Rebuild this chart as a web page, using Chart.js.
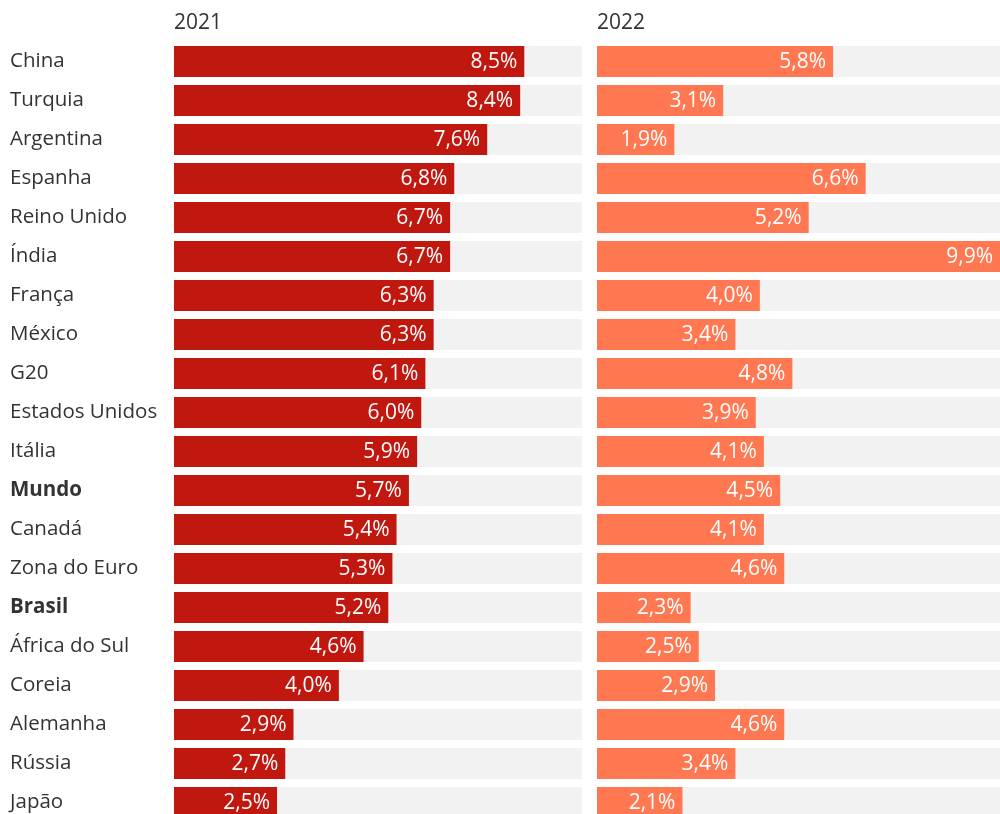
<!DOCTYPE html>
<html>
<head>
<meta charset="utf-8">
<script src="https://cdn.jsdelivr.net/npm/chart.js@4"></script>
<style>
  html, body { margin: 0; padding: 0; background: #fff; overflow: hidden; width: 1000px; height: 814px; }
  canvas { position: absolute; top: 0; }
  #left { left: 0; }
  #right { left: 597px; }
</style>
</head>
<body>
<canvas id="left" width="582" height="822"></canvas>
<canvas id="right" width="403" height="822"></canvas>
<script>
// categories and values (growth %)
var countries = ['China', 'Turquia', 'Argentina', 'Espanha', 'Reino Unido', 'Índia', 'França', 'México', 'G20',
  'Estados Unidos', 'Itália', 'Mundo', 'Canadá', 'Zona do Euro', 'Brasil', 'África do Sul', 'Coreia',
  'Alemanha', 'Rússia', 'Japão'];
var values2021 = [8.5, 8.4, 7.6, 6.8, 6.7, 6.7, 6.3, 6.3, 6.1, 6.0, 5.9, 5.7, 5.4, 5.3, 5.2, 4.6, 4.0, 2.9, 2.7, 2.5];
var values2022 = [5.8, 3.1, 1.9, 6.6, 5.2, 9.9, 4.0, 3.4, 4.8, 3.9, 4.1, 4.5, 4.1, 4.6, 2.3, 2.5, 2.9, 4.6, 3.4, 2.1];
var boldRows = ['Mundo', 'Brasil'];
var axisMax = 9.9;

var FONT = "'Open Sans', 'Noto Sans', sans-serif";

// grey track behind each bar, value label inside, country names, panel title
var trackPlugin = {
  id: 'track',
  beforeDatasetsDraw: function(chart) {
    var ctx = chart.ctx, area = chart.chartArea;
    var meta = chart.getDatasetMeta(0);
    ctx.save();
    ctx.fillStyle = '#f2f2f2';
    meta.data.forEach(function(bar) {
      ctx.fillRect(area.left, bar.y - bar.height / 2, area.right - area.left, bar.height);
    });
    ctx.restore();
  },
  afterDatasetsDraw: function(chart) {
    var ctx = chart.ctx, area = chart.chartArea;
    var meta = chart.getDatasetMeta(0);
    var data = chart.data.datasets[0].data;
    var opts = chart.options.plugins.track;
    ctx.save();
    ctx.textBaseline = 'middle';
    ctx.font = '21px ' + FONT;
    ctx.fillStyle = '#ffffff';
    ctx.textAlign = 'right';
    meta.data.forEach(function(bar, i) {
      var txt = data[i].toFixed(1).replace('.', ',') + '%';
      ctx.fillText(txt, bar.x - 7, bar.y + 1);
    });
    ctx.fillStyle = '#333333';
    ctx.textAlign = 'left';
    if (opts.showLabels) {
      meta.data.forEach(function(bar, i) {
        var lbl = chart.data.labels[i];
        var bold = boldRows.indexOf(lbl) >= 0;
        ctx.font = (bold ? 'bold ' : '') + '20.5px ' + FONT;
        ctx.fillText(lbl, 10, bar.y);
      });
    }
    ctx.font = '21px ' + FONT;
    ctx.fillText(opts.title, area.left, 23);
    ctx.restore();
  }
};

function makeChart(id, values, color, title, showLabels) {
  var ctx = document.getElementById(id).getContext('2d');
  return new Chart(ctx, {
    type: 'bar',
    data: {
      labels: countries,
      datasets: [{
        data: values,
        backgroundColor: color,
        borderWidth: 0,
        barPercentage: 0.795,
        categoryPercentage: 1
      }]
    },
    options: {
      indexAxis: 'y',
      responsive: false,
      animation: false,
      devicePixelRatio: 1,
      layout: { padding: { top: 42, bottom: 0, left: showLabels ? 174 : 0, right: 0 } },
      plugins: {
        legend: { display: false },
        tooltip: { enabled: false },
        title: { display: false },
        track: { title: title, showLabels: showLabels }
      },
      scales: {
        x: { display: false, min: 0, max: axisMax },
        y: { display: false }
      }
    },
    plugins: [trackPlugin]
  });
}

makeChart('left', values2021, '#c0170f', '2021', true);
makeChart('right', values2022, '#ff7852', '2022', false);
</script>
</body>
</html>
